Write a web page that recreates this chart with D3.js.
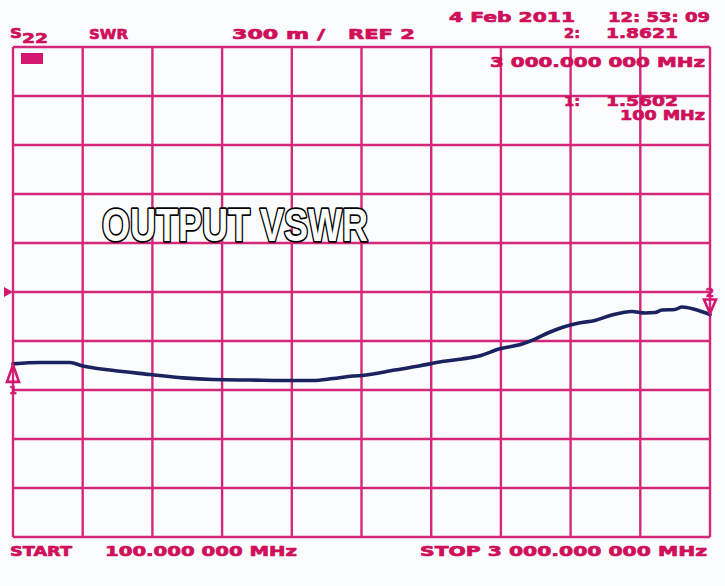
<!DOCTYPE html>
<html><head><meta charset="utf-8">
<script src="https://cdn.jsdelivr.net/npm/d3@7"></script>
<style>html,body{margin:0;padding:0;background:#fbfcfe;}svg{display:block;}</style>
</head><body>
<script>
// ---- data ----
const freqMHz = [100,212,337,391,504,670,807,932,1086,1294,1348,1431,1515,1552,1689,1789,1885,1968,2039,2122,2218,2272,2330,2384,2455,2521,2592,2675,2730,2771,2800,2854,2884,2938,3000];
const vswr    = [1.560,1.568,1.568,1.547,1.522,1.495,1.474,1.464,1.461,1.458,1.458,1.470,1.486,1.489,1.522,1.547,1.574,1.590,1.608,1.651,1.682,1.712,1.752,1.783,1.810,1.826,1.859,1.881,1.871,1.874,1.890,1.893,1.908,1.893,1.862];
const startMHz = 100, stopMHz = 3000;
const refValue = 2, scalePerDiv = 0.3, divisions = 10;
const markers = [{id:"1", f:100, v:1.5602}, {id:"2", f:3000, v:1.8621}];
const headerTexts = ["S", "22", "SWR", "300 m /", "REF 2", "4 Feb 2011", "12: 53: 09"];
const markerTexts = ["2:", "1.8621", "3 000.000 000 MHz", "1:", "1.5602", "100 MHz"];
const footerTexts = ["START", "100.000 000 MHz", "STOP 3 000.000 000 MHz"];
const title = "OUTPUT VSWR";

// ---- drawing ----
const W = 725, H = 586;
const pink = "#d3176f", textPink = "#cf0f5a", trace = "#1b2260";
const svg = d3.select("body").append("svg").attr("width", W).attr("height", H);
svg.append("rect").attr("width", W).attr("height", H).attr("fill", "#fbfcfe");

const x = d3.scaleLinear().domain([startMHz, stopMHz]).range([13, 710]);
const y = d3.scaleLinear().domain([refValue - scalePerDiv*divisions/2, refValue + scalePerDiv*divisions/2]).range([537, 47]);

const xg = d3.range(divisions + 1).map(i => startMHz + i*(stopMHz - startMHz)/divisions);
const yg = d3.range(divisions + 1).map(i => y.domain()[0] + i*scalePerDiv);

const grid = svg.append("g").attr("stroke", pink).attr("stroke-width", 2.4).attr("opacity", 0.92);
grid.selectAll("line.v").data(xg).join("line").attr("class","v")
  .attr("x1", d => x(d)).attr("x2", d => x(d)).attr("y1", y.range()[1]).attr("y2", y.range()[0]);
grid.selectAll("line.h").data(yg).join("line").attr("class","h")
  .attr("y1", d => y(d)).attr("y2", d => y(d)).attr("x1", x.range()[0]).attr("x2", x.range()[1]);

// reference triangle on left
svg.append("path").attr("fill", pink)
  .attr("d", `M${x(startMHz)-9},${y(refValue)-5} L${x(startMHz)},${y(refValue)} L${x(startMHz)-9},${y(refValue)+5} Z`);

// trace
const line = d3.line().x((d,i) => x(freqMHz[i])).y(d => y(d)).curve(d3.curveMonotoneX);
svg.append("path").datum(vswr).attr("d", line).attr("fill", "none")
  .attr("stroke", trace).attr("stroke-width", 3.6).attr("stroke-linejoin", "round").attr("stroke-linecap","round");

// markers
const m1 = markers[0], m2 = markers[1];
{
  const mx = x(m1.f), my = y(m1.v);
  svg.append("path").attr("fill", "none").attr("stroke", pink).attr("stroke-width", 2.6)
    .attr("d", `M${mx},${my+1} L${mx+6},${my+18} L${mx-6},${my+18} Z`);
  svg.append("text").attr("x", mx).attr("y", my+30).attr("text-anchor","middle")
    .attr("font-family","DejaVu Sans").attr("font-weight","bold").attr("font-size",11)
    .attr("fill", pink).attr("stroke", pink).attr("stroke-width", 0.6).text(m1.id);
}
{
  const mx = x(m2.f), my = y(m2.v);
  svg.append("path").attr("fill", "none").attr("stroke", pink).attr("stroke-width", 2.6)
    .attr("d", `M${mx},${my-1} L${mx+6},${my-15} L${mx-6},${my-15} Z`);
  svg.append("text").attr("x", mx).attr("y", my-18).attr("text-anchor","middle")
    .attr("font-family","DejaVu Sans").attr("font-weight","bold").attr("font-size",12)
    .attr("fill", pink).attr("stroke", pink).attr("stroke-width", 0.6).text(m2.id);
}

// small box at top-left
svg.append("rect").attr("x", 21).attr("y", 53).attr("width", 22).attr("height", 11).attr("fill", pink);

function ptext(t, px, py, len, size) {
  svg.append("text").attr("x", px).attr("y", py)
    .attr("font-family", "DejaVu Sans").attr("font-weight", "bold")
    .attr("font-size", size || 14.5).attr("fill", textPink)
    .attr("stroke", textPink).attr("stroke-width", 0.7).attr("stroke-linejoin", "round")
    .attr("textLength", len).attr("lengthAdjust", "spacingAndGlyphs").text(t);
}
ptext(headerTexts[0], 10, 38, 12);
ptext(headerTexts[1], 22, 43, 26);
ptext(headerTexts[2], 89, 39, 39);
ptext(headerTexts[3], 232, 39, 93);
ptext(headerTexts[4], 348, 39, 67);
ptext(headerTexts[5], 449, 22, 126);
ptext(headerTexts[6], 608, 22, 102);
ptext(markerTexts[0], 564, 38, 16);
ptext(markerTexts[1], 606, 38, 72);
ptext(markerTexts[2], 490, 67, 215);
ptext(markerTexts[3], 564, 106, 16);
ptext(markerTexts[4], 606, 106, 72);
ptext(markerTexts[5], 620, 120, 85);
ptext(footerTexts[0], 10, 556, 62);
ptext(footerTexts[1], 105, 556, 192);
ptext(footerTexts[2], 420, 556, 287);

svg.append("text").attr("x", 102).attr("y", 241)
  .attr("font-family", "Liberation Sans").attr("font-weight", "bold").attr("font-size", 47)
  .attr("fill", "#fff").attr("stroke", "#000").attr("stroke-width", 3.5)
  .attr("paint-order", "stroke fill").attr("stroke-linejoin","round")
  .attr("textLength", 266).attr("lengthAdjust", "spacingAndGlyphs").text(title);
</script>
</body></html>
